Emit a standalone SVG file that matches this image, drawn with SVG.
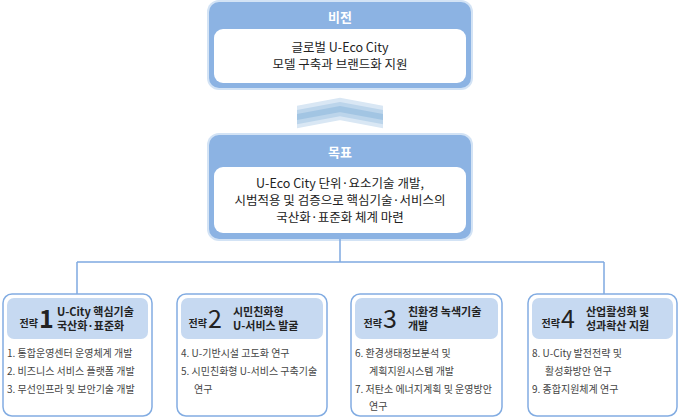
<svg xmlns="http://www.w3.org/2000/svg" width="680" height="418" viewBox="0 0 680 418">
<defs>
<style>
.halo{fill:#d3e3f5}
.outer{fill:#8cb3e3}
.inner{fill:#ffffff}
.ttl{font-family:"Noto Sans CJK KR","Noto Sans",sans-serif;font-size:13px;font-weight:bold;fill:#ffffff;text-anchor:middle}
.body{font-family:"Noto Sans CJK KR","Noto Sans",sans-serif;font-size:12.5px;fill:#222222;text-anchor:middle}
.sbox{fill:#ffffff;stroke:#82ace2;stroke-width:1.5}
.shead{fill:#c6d9f1}
.lbl{font-family:"Noto Sans CJK KR","Noto Sans",sans-serif;font-size:11px;font-weight:bold;fill:#222222}
.jl{font-family:"Noto Sans CJK KR","Noto Sans",sans-serif;font-size:10px;font-weight:bold;fill:#222222;text-anchor:end}
.num{font-family:"Noto Sans CJK KR","Noto Sans",sans-serif;font-size:25px;fill:#222222}
.item{font-family:"Noto Sans CJK KR","Noto Sans",sans-serif;font-size:10px;fill:#444444}
.conn{fill:none;stroke:#7ea9e0;stroke-width:1.5}
</style>
<clipPath id="chevclip"><rect x="297" y="90" width="86" height="45"/></clipPath>
</defs>

<g id="vision">
<rect class="halo" x="207" y="0" width="266" height="90" rx="12"/>
<rect class="outer" x="209" y="2" width="262" height="86" rx="10"/>
<rect class="inner" x="214" y="29" width="252" height="54" rx="9"/>
<text class="ttl" x="340" y="22">비전</text>
<text class="body" x="340" y="52">글로벌 U-Eco City<tspan x="340" dy="17">모델 구축과 브랜드화 지원</tspan></text>
</g>

<g id="chevron" clip-path="url(#chevclip)">
<polyline points="280,120.2 340,109 400,120.2" fill="none" stroke="#d9e7f4" stroke-width="22"/>
<polyline points="280,120.2 340,109 400,120.2" fill="none" stroke="#bcd5eb" stroke-width="14"/>
<polyline points="280,120.2 340,109 400,120.2" fill="none" stroke="#a2c5e3" stroke-width="6"/>
</g>

<g id="goal">
<rect class="halo" x="207" y="133" width="266" height="108" rx="12"/>
<rect class="outer" x="209" y="135" width="262" height="104" rx="10"/>
<rect class="inner" x="214" y="167" width="252" height="66" rx="9"/>
<text class="ttl" x="340" y="157">목표</text>
<text class="body" x="340" y="188">U-Eco City 단위·요소기술 개발,<tspan x="340" dy="17">시범적용 및 검증으로 핵심기술·서비스의</tspan><tspan x="340" dy="17">국산화·표준화 체계 마련</tspan></text>
</g>

<g id="connectors">
<line class="conn" x1="340" y1="239" x2="340" y2="262"/>
<line class="conn" x1="77" y1="262" x2="604" y2="262"/>
<line class="conn" x1="77" y1="262" x2="77" y2="294"/>
<line class="conn" x1="604" y1="262" x2="604" y2="294"/>
</g>

<g id="strategy1">
<rect class="sbox" x="3" y="294" width="149" height="122" rx="9"/>
<rect class="shead" x="7" y="298" width="141" height="41" rx="7"/>
<text class="jl" x="38" y="327">전략</text>
<text class="num" x="39" y="328" font-weight="bold">1</text>
<text class="lbl" x="57" y="316">U-City 핵심기술<tspan x="57" dy="14">국산화·표준화</tspan></text>
<text class="item" x="7" y="357">1. 통합운영센터 운영체계 개발</text>
<text class="item" x="7" y="375">2. 비즈니스 서비스 플랫폼 개발</text>
<text class="item" x="7" y="393">3. 무선인프라 및 보안기술 개발</text>
</g>

<g id="strategy2">
<rect class="sbox" x="177" y="294" width="150" height="122" rx="9"/>
<rect class="shead" x="181" y="298" width="142" height="41" rx="7"/>
<text class="jl" x="207" y="327">전략</text>
<text class="num" x="208" y="328">2</text>
<text class="lbl" x="233" y="316">시민친화형<tspan x="233" dy="14">U-서비스 발굴</tspan></text>
<text class="item" x="181" y="357">4. U-기반시설 고도화 연구</text>
<text class="item" x="181" y="375">5. 시민친화형 U-서비스 구축기술<tspan x="194" dy="18">연구</tspan></text>
</g>

<g id="strategy3">
<rect class="sbox" x="351" y="294" width="151" height="122" rx="9"/>
<rect class="shead" x="355" y="298" width="143" height="41" rx="7"/>
<text class="jl" x="382" y="327">전략</text>
<text class="num" x="383" y="328">3</text>
<text class="lbl" x="408" y="316">친환경 녹색기술<tspan x="408" dy="14">개발</tspan></text>
<text class="item" x="355" y="357">6. 환경생태정보분석 및<tspan x="369" dy="18">계획지원시스템 개발</tspan></text>
<text class="item" x="355" y="393">7. 저탄소 에너지계획 및 운영방안<tspan x="369" dy="17">연구</tspan></text>
</g>

<g id="strategy4">
<rect class="sbox" x="528" y="294" width="149" height="122" rx="9"/>
<rect class="shead" x="532" y="298" width="141" height="41" rx="7"/>
<text class="jl" x="560" y="327">전략</text>
<text class="num" x="561" y="328">4</text>
<text class="lbl" x="586" y="316">산업활성화 및<tspan x="586" dy="14">성과확산 지원</tspan></text>
<text class="item" x="532" y="357">8. U-City 발전전략 및<tspan x="545" dy="18">활성화방안 연구</tspan></text>
<text class="item" x="532" y="393">9. 종합지원체계 연구</text>
</g>
</svg>
